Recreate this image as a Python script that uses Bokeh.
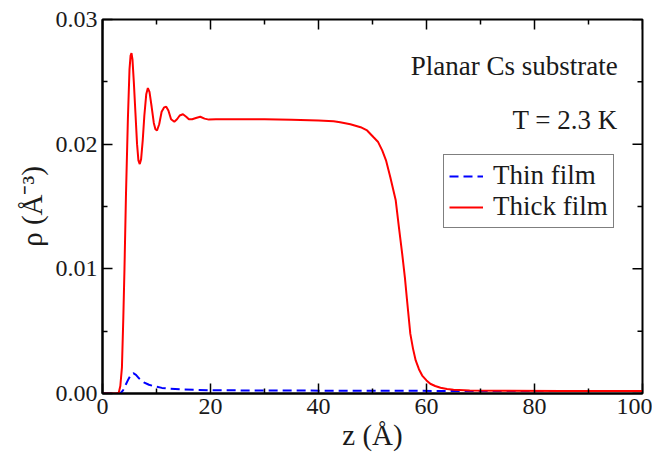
import math
from bokeh.plotting import figure
from bokeh.models import (Range1d, FixedTicker, Label, Legend,
                          LegendItem, PrintfTickFormatter, ColumnDataSource)
from bokeh.embed import file_html
from bokeh.resources import INLINE

# ---------------- data (rho in A^-3) ----------------
z_thick = [0, 2.5, 3.0, 3.3, 3.6, 3.85, 4.07, 4.35, 4.7, 5.0, 5.2, 5.37, 5.55,
           5.8, 6.1, 6.4, 6.65, 6.9, 7.15, 7.45, 7.75, 8.1, 8.4, 8.7, 9.1,
           9.5, 9.8, 10.1, 10.5, 10.95, 11.4, 11.8, 12.2, 12.7, 13.3, 13.8,
           14.3, 14.9, 15.5, 16.0, 16.6, 17.3, 18.1, 18.9, 19.7, 21, 25, 30,
           35, 40, 42.8, 44, 45.9, 47.8, 49, 50.2, 51.0, 51.8, 52.5, 53.3,
           54.3, 54.9, 55.5, 56.0, 56.4, 57.0, 57.5, 58.0, 58.6, 59.2, 60.0,
           60.7, 61.6, 62.6, 63.8, 65, 68, 75, 85, 100]
rho_thick = [0, 0, 0.00005, 0.0006, 0.0021, 0.0060, 0.0100, 0.0160, 0.0220,
             0.0260, 0.0271, 0.0273, 0.0268, 0.0250, 0.0225, 0.0200, 0.0187,
             0.0184, 0.0188, 0.0203, 0.0223, 0.0240, 0.0245, 0.0242, 0.0230,
             0.0217, 0.0212, 0.0211, 0.0216, 0.0226, 0.02295, 0.0230, 0.0227,
             0.0220, 0.0218, 0.0220, 0.0223, 0.0224, 0.0222, 0.0220, 0.0220,
             0.0221, 0.0222, 0.02205, 0.02197, 0.0220, 0.0220, 0.0220,
             0.02195, 0.0219, 0.02184, 0.02176, 0.0216, 0.02136, 0.0211,
             0.02055, 0.0202, 0.0195, 0.0187, 0.01735, 0.0155, 0.0133,
             0.0112, 0.0093, 0.00746, 0.0048, 0.0036, 0.00265, 0.00195,
             0.00144, 0.00105, 0.00078, 0.0006, 0.00046, 0.00036, 0.0003,
             0.00025, 0.00022, 0.0002, 0.0002]

z_thin = [0, 3.0, 3.33, 3.8, 4.3, 4.8, 5.2, 5.7, 6.2, 6.8, 7.65, 8.6, 9.8,
          11, 12.5, 15, 20, 30, 50, 70, 100]
rho_thin = [0, 0, 0.00002, 0.00025, 0.0007, 0.00115, 0.00145, 0.00163,
            0.0015, 0.0012, 0.0009, 0.0007, 0.00056, 0.00045, 0.00038,
            0.00032, 0.00026, 0.00024, 0.00022, 0.0002, 0.0002]

x_ticks = [0, 20, 40, 60, 80, 100]
x_minor = [10, 30, 50, 70, 90]
y_ticks = [0.0, 0.01, 0.02, 0.03]
y_minor = [0.005, 0.015, 0.025]
X_MAX = 100
Y_MAX = 0.03

FONT = "Liberation Serif"
INK = "#1a1a1a"

p = figure(frame_width=540, frame_height=374,
           x_range=Range1d(0, X_MAX), y_range=Range1d(0, Y_MAX),
           output_backend="svg", toolbar_location=None,
           min_border_left=102, min_border_right=10, min_border_top=19,
           min_border_bottom=55)
p.background_fill_color = "white"
p.border_fill_color = "white"
p.outline_line_color = "black"
p.outline_line_width = 2
p.xgrid.visible = False
p.ygrid.visible = False

src_thin = ColumnDataSource(dict(z=z_thin, rho=rho_thin))
src_thick = ColumnDataSource(dict(z=z_thick, rho=rho_thick))
r_thin = p.line("z", "rho", source=src_thin, line_color="#0000ff",
                line_width=2, line_dash="9 5")
r_thick = p.line("z", "rho", source=src_thick, line_color="#ff0000",
                 line_width=2)

# mirrored inward ticks on top and right edges (markers clipped by the frame)
p.scatter(x=x_ticks, y=[Y_MAX] * len(x_ticks), marker="dash", angle=math.pi / 2,
          size=20, line_color="black", line_width=1.5)
p.scatter(x=x_minor, y=[Y_MAX] * len(x_minor), marker="dash", angle=math.pi / 2,
          size=10, line_color="black", line_width=1.5)
p.scatter(x=[X_MAX] * len(y_ticks), y=y_ticks, marker="dash",
          size=20, line_color="black", line_width=1.5)
p.scatter(x=[X_MAX] * len(y_minor), y=y_minor, marker="dash",
          size=10, line_color="black", line_width=1.5)


def style_axis(ax):
    ax.axis_line_color = "black"
    ax.axis_line_width = 2
    ax.major_tick_line_color = "black"
    ax.minor_tick_line_color = "black"
    ax.major_tick_line_width = 1.5
    ax.minor_tick_line_width = 1.5
    ax.major_tick_in = 10
    ax.major_tick_out = 0
    ax.minor_tick_in = 5
    ax.minor_tick_out = 0
    ax.major_label_text_font = FONT
    ax.major_label_text_font_size = "24px"
    ax.major_label_text_color = INK
    ax.major_label_standoff = 5
    ax.axis_label_text_font = FONT
    ax.axis_label_text_font_size = "29px"
    ax.axis_label_text_font_style = "normal"
    ax.axis_label_text_color = INK


xa = p.xaxis[0]
xa.ticker = FixedTicker(ticks=x_ticks, minor_ticks=x_minor)
style_axis(xa)
xa.axis_label = "z (Å)"
xa.axis_label_standoff = 2

ya = p.yaxis[0]
ya.ticker = FixedTicker(ticks=y_ticks, minor_ticks=y_minor)
ya.formatter = PrintfTickFormatter(format="%.2f")
style_axis(ya)
ya.axis_label = "ρ (Å⁻³)"
ya.axis_label_standoff = 5

# annotations
p.add_layout(Label(x=95.4, y=0.02631, text="Planar Cs substrate",
                   text_align="right", text_baseline="alphabetic",
                   text_font=FONT, text_font_size="27px", text_color=INK))
p.add_layout(Label(x=95.4, y=0.0219, text="T = 2.3 K",
                   text_align="right", text_baseline="alphabetic",
                   text_font=FONT, text_font_size="27px", text_color=INK))

legend = Legend(items=[LegendItem(label="Thin film", renderers=[r_thin]),
                       LegendItem(label="Thick film", renderers=[r_thick])],
                location=(341, 165), margin=0, padding=5, spacing=0,
                glyph_width=34, glyph_height=24, label_standoff=10,
                label_height=24,
                label_text_font=FONT, label_text_font_size="27px",
                label_text_color=INK,
                border_line_color="black", border_line_width=1.5,
                background_fill_color="white", background_fill_alpha=1)
p.add_layout(legend)

open("out.html", "w").write(file_html(p, INLINE))
